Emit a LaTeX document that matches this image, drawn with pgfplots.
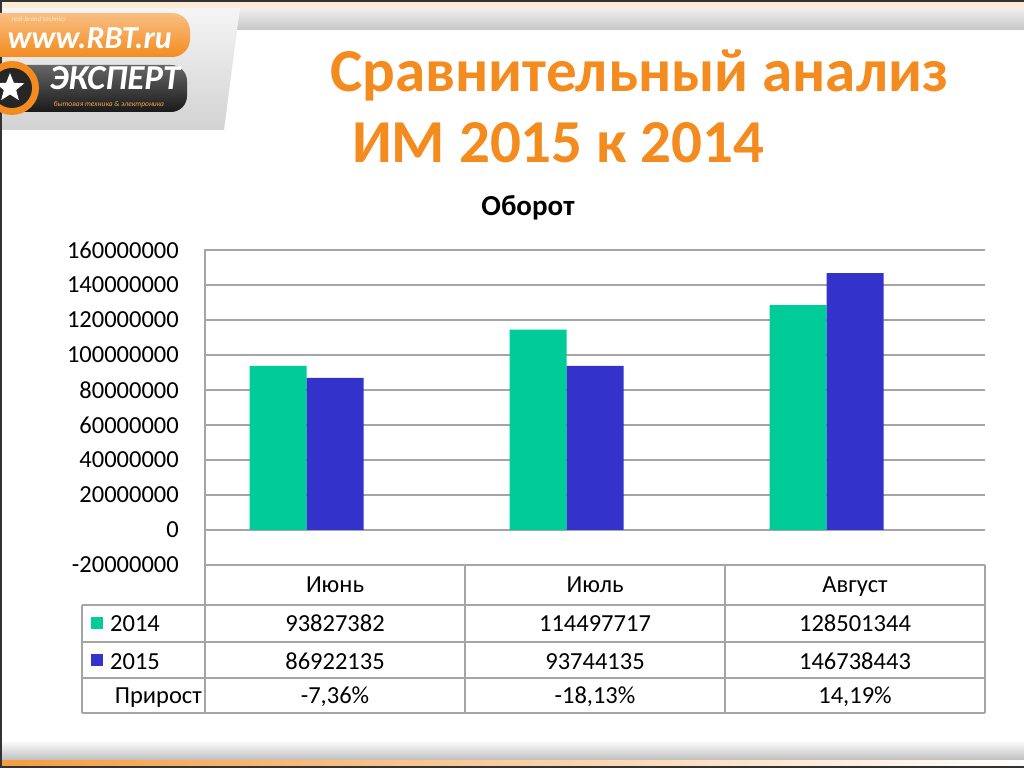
\documentclass[border=0pt]{standalone}
\usepackage{fontspec}
\setmainfont{Carlito}
\usepackage{pgfplots}
\pgfplotsset{compat=1.18}
\usetikzlibrary{shapes.geometric}

\definecolor{c14}{RGB}{0,204,153}
\definecolor{c15}{RGB}{51,51,204}
\definecolor{ttl}{RGB}{243,139,31}
\definecolor{gridc}{RGB}{165,165,165}
\newcommand{\tf}{\fontsize{24.5}{28}\selectfont}

\begin{document}
\begin{tikzpicture}[x=1pt,y=1pt]
\useasboundingbox (0,0) rectangle (1024,768);
\fill[white] (0,0) rectangle (1024,768);

% slide decoration: top band, logo panel, bottom band
\shade[top color=gray!12, bottom color=gray!45] (0,738) rectangle (1024,760);
\fill[ttl!18] (0,760) rectangle (1024,766);
\fill[black!80] (0,766) rectangle (1024,768);
\shade[top color=gray!8, bottom color=gray!35] (0,760) -- (240,760) .. controls (232,700) .. (224,638) -- (0,638) -- cycle;
\shade[top color=white, bottom color=gray!50] (0,8) rectangle (1024,28);
\shade[left color=ttl!85, right color=white] (0,2) rectangle (1024,8);
\fill[black!80] (0,0) rectangle (1024,2);
\fill[black!80] (0,0) rectangle (2,768);

% logo
\shade[top color=ttl!55, bottom color=ttl, rounded corners=18pt] (-20,711) rectangle (190,755);
\node[anchor=base west, text=white!80!ttl, font=\fontsize{7}{8}\selectfont\itshape] at (8,746) {real-brand technics};
\node[anchor=base west, text=white, font=\fontsize{32}{36}\selectfont\bfseries\itshape] at (4,719) {www.RBT.ru};
\shade[top color=black!60, bottom color=black!90, rounded corners=16pt] (-10,656) rectangle (187,703);
\fill[ttl] (12,680) circle (27);
\fill[black!85] (12,680) circle (20);
\node[star, star points=5, star point ratio=2.3, fill=white, minimum size=30pt, inner sep=0pt] at (10,680) {};
\node[anchor=base west, text=white, font=\fontsize{35}{38}\selectfont\bfseries\itshape] at (46,678) {ЭКСПЕРТ};
\node[anchor=base west, text=ttl!80, font=\fontsize{7.5}{9}\selectfont\itshape] at (50,661) {бытовая техника \& электроника};

% titles
\node[anchor=base west, text=ttl, font=\fontsize{61}{66}\selectfont\bfseries, inner sep=0pt] at (330,676) {Сравнительный анализ};
\node[anchor=base west, text=ttl, font=\fontsize{61}{66}\selectfont\bfseries, inner sep=0pt] at (352,605) {ИМ 2015 к 2014};
\node[font=\fontsize{29}{32}\selectfont\bfseries] at (528,560) {Оборот};

\begin{axis}[
  at={(205pt,203pt)}, anchor=south west,
  scale only axis, width=780pt, height=315pt,
  xmin=-0.5, xmax=2.5,
  ymin=-20000000, ymax=160000000,
  axis line style={draw=none},
  xtick=\empty,
  scaled y ticks=false,
  ytick={-20000000,0,20000000,40000000,60000000,80000000,100000000,120000000,140000000,160000000},
  yticklabels={-20000000,0,20000000,40000000,60000000,80000000,100000000,120000000,140000000,160000000},
  major tick length=0pt,
  yticklabel style={font=\tf, anchor=east, inner sep=0pt, xshift=-26pt},
  ymajorgrids,
  grid style={gridc, line width=1.3pt},
  clip=false,
]
\addplot[ybar, bar width=57pt, bar shift=-57pt, fill=c14, draw=none]
  coordinates {(0,93827382) (1,114497717) (2,128501344)};
\addplot[ybar, bar width=57pt, bar shift=0pt, fill=c15, draw=none]
  coordinates {(0,86922135) (1,93744135) (2,146738443)};
\end{axis}

% data table under the plot
\begin{scope}[gridc, line width=1.3pt]
\draw (205,519) -- (205,55);
\draw (465,203) -- (465,55);
\draw (725,203) -- (725,55);
\draw (985,203) -- (985,55);
\draw (82,163) -- (82,55);
\draw (82,163) -- (985,163);
\draw (82,126) -- (985,126);
\draw (82,90) -- (985,90);
\draw (82,55) -- (985,55);
\end{scope}

\begin{scope}[font=\tf, every node/.style={anchor=base, inner sep=0pt}]
\node at (335,175) {Июнь};
\node at (595,175) {Июль};
\node at (855,175) {Август};
\fill[c14] (91,139) rectangle (103,151);
\node[anchor=base west] at (110,136) {2014};
\fill[c15] (91,102) rectangle (103,114);
\node[anchor=base west] at (110,99) {2015};
\node[anchor=base east] at (202,65) {Прирост};
\node at (335,136) {93827382};
\node at (595,136) {114497717};
\node at (855,136) {128501344};
\node at (335,99) {86922135};
\node at (595,99) {93744135};
\node at (855,99) {146738443};
\node at (335,65) {-7,36\%};
\node at (595,65) {-18,13\%};
\node at (855,65) {14,19\%};
\end{scope}
\end{tikzpicture}
\end{document}
